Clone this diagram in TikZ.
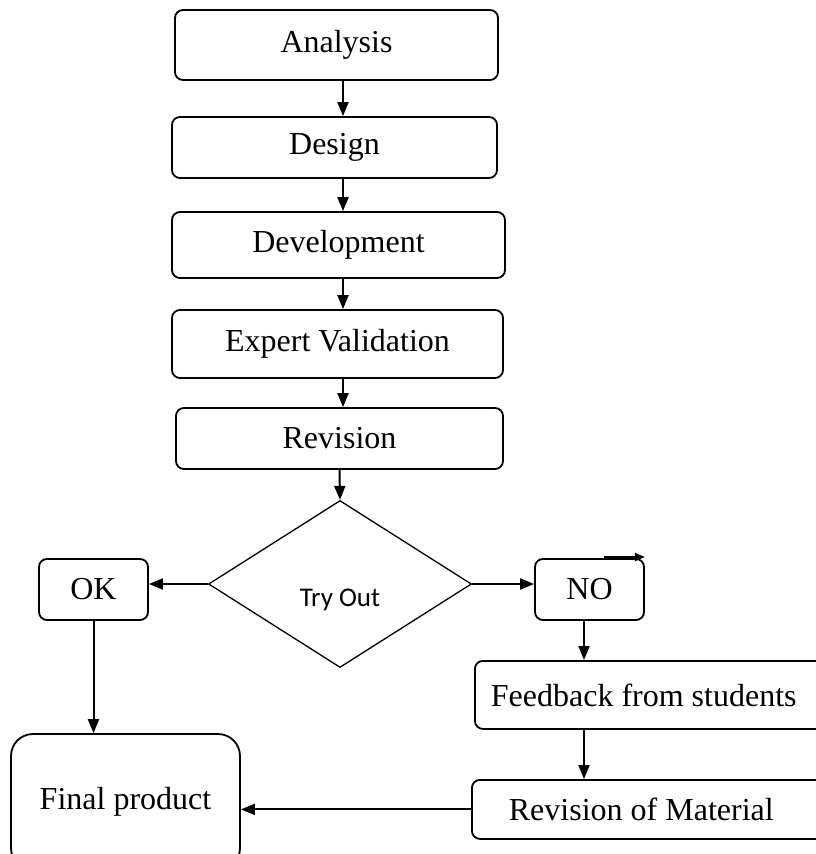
\documentclass[tikz,border=0pt]{standalone}
\usepackage{fontspec}
\setmainfont{Liberation Serif}
\newfontfamily\tryfont{Carlito}
\usetikzlibrary{shapes.geometric,arrows.meta}

\begin{document}
\begin{tikzpicture}[x=1pt, y=-1pt, line width=1.8pt,
                    >={Triangle[width=11pt,length=14pt]},
                    stepbox/.style={draw, rounded corners=8pt, inner sep=0pt,
                                    font=\fontsize{32}{36}\selectfont},
                    flow/.style={->, line width=2pt}]

    \useasboundingbox (0,0) rectangle (816,854);

    % main column
    \node[stepbox, minimum width=323pt, minimum height=70pt] (ana) at (336.5,45) {Analysis};
    \node[stepbox, minimum width=325pt, minimum height=61pt] (des) at (334.5,147.5) {Design};
    \node[stepbox, minimum width=333pt, minimum height=66pt] (dev) at (338.5,245) {Development};
    \node[stepbox, minimum width=331pt, minimum height=68pt] (exp) at (337.5,344) {Expert Validation};
    \node[stepbox, minimum width=327pt, minimum height=61pt] (rev) at (339.5,438.5) {Revision};

    \node[draw, diamond, aspect=1.575, minimum width=263pt, minimum height=167pt,
          inner sep=0pt, line width=1.3pt,
          label={[font=\tryfont\fontsize{27}{30}\selectfont, yshift=-16pt]center:Try Out}] (try) at (340,584) {};

    % branches
    \node[stepbox, minimum width=109pt, minimum height=61pt] (ok) at (93.5,589.5) {OK};
    \node[stepbox, minimum width=109pt, minimum height=61pt] (no) at (589.5,589.5) {NO};

    \node[stepbox, anchor=north west, inner xsep=16pt, text width=330pt, align=flush left,
          minimum height=68pt] (fb) at (474,660) {Feedback from students};
    \node[stepbox, anchor=north west, inner xsep=37pt, text width=320pt, align=flush left,
          minimum height=59pt] (rm) at (471,779) {Revision of Material};

    \node[stepbox, rounded corners=22pt, minimum width=229pt, minimum height=136pt] (fin) at (125.5,802) {Final product};

    \coordinate (axis) at (343,0);
    \coordinate (nocol) at (584,0);
    \coordinate (nohook) at (604,557);

    % connectors
    \draw[flow] (axis |- ana.south) -- (axis |- des.north);
    \draw[flow] (axis |- des.south) -- (axis |- dev.north);
    \draw[flow] (axis |- dev.south) -- (axis |- exp.north);
    \draw[flow] (axis |- exp.south) -- (axis |- rev.north);
    \draw[flow] (rev.south) -- (try.north);

    \draw[flow] (try.west) -- (try.west -| ok.east);
    \draw[flow] (try.east) -- (try.east -| no.west);
    \draw[flow, >={Triangle[width=8pt,length=10pt]}] (nohook) -- (nohook -| no.north east);

    \draw[flow] (nocol |- no.south) -- (nocol |- fb.north);
    \draw[flow] (nocol |- fb.south) -- (nocol |- rm.north);
    \draw[flow] (rm.west) -- (rm.west -| fin.east);
    \draw[flow] (ok.south) -- (ok.south |- fin.north);
\end{tikzpicture}
\end{document}
